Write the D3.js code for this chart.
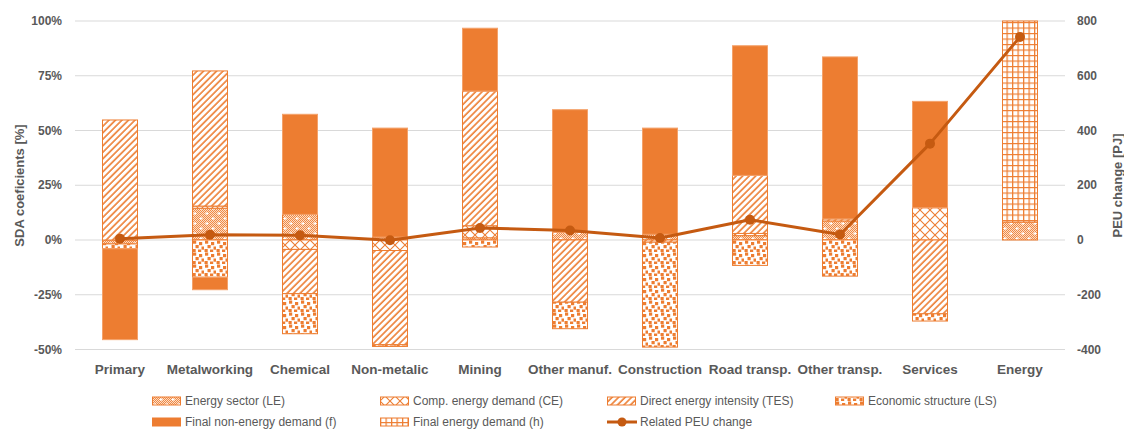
<!DOCTYPE html>
<html>
<head>
<meta charset="utf-8">
<script src="https://cdn.jsdelivr.net/npm/d3@7"></script>
<style>
  body { margin: 0; background: #fff; }
  text { font-family: "Liberation Sans", Arial, sans-serif; }
</style>
</head>
<body>
<div id="chart"></div>
<script>
// categories and SDA coefficients [%]
const categories = ["Primary", "Metalworking", "Chemical", "Non-metalic", "Mining", "Other manuf.",
  "Construction", "Road transp.", "Other transp.", "Services", "Energy"];
const LE  = [-1.8, 14.5, 11.7, 1.3, 1.0, 3.6, 2.6, 2.0, 8.7, 0, 8.2];
const CE  = [0, 1.0, -4.3, -4.8, 5.5, 0, 0, 1.0, 0, 14.7, 0];
const TES = [54.8, 61.7, -20.2, -43.0, 61.5, -28.4, -1.0, 26.5, 0.9, -33.7, 0];
const LS  = [-2.2, -17.0, -18.3, -0.8, -3.2, -12.1, -47.9, -11.6, -16.5, -3.3, 0];
const F   = [-41.5, -5.7, 45.7, 49.8, 28.7, 55.9, 48.5, 59.2, 74.0, 48.6, 0];
const H   = [0, 0, 0, 0, 0, 0, 0, 0, 0, 0, 91.8];
// related PEU change [PJ]
const peu = [5, 19, 17, -1, 44, 35, 7, 74, 20, 352, 742];

const leftTicks = [-50, -25, 0, 25, 50, 75, 100];
const rightTicks = [-400, -200, 0, 200, 400, 600, 800];

const series = [
  {key: "LE", name: "Energy sector (LE)", values: LE, fill: "url(#p-le)"},
  {key: "CE", name: "Comp. energy demand (CE)", values: CE, fill: "url(#p-ce)"},
  {key: "TES", name: "Direct energy intensity (TES)", values: TES, fill: "url(#p-tes)"},
  {key: "LS", name: "Economic structure (LS)", values: LS, fill: "url(#p-ls)"},
  {key: "f", name: "Final non-energy demand (f)", values: F, fill: "#ED7D31"},
  {key: "h", name: "Final energy demand (h)", values: H, fill: "url(#p-h)"}
];

const table = categories.map((c, i) => {
  const row = {cat: c};
  series.forEach(s => row[s.key] = s.values[i]);
  return row;
});

const width = 1124, height = 429;
const orange = "#ED7D31", dark = "#C55A11", grey = "#595959";

const x = d3.scaleBand().domain(categories).range([75, 1065]).paddingInner(0.6).paddingOuter(0.3);
const y = d3.scaleLinear().domain([-50, 100]).range([349.5, 21]);
const y2 = d3.scaleLinear().domain([-400, 800]).range([349.5, 21]);

const svg = d3.select("#chart").append("svg")
  .attr("width", width)
  .attr("height", height);

// patterns
const defs = svg.append("defs");
const fine = defs.append("pattern").attr("id", "p-fine")
  .attr("patternUnits", "userSpaceOnUse").attr("width", 2).attr("height", 2);
fine.append("rect").attr("width", 2).attr("height", 2).attr("fill", "#FBDDC7");
fine.append("rect").attr("width", 1).attr("height", 1).attr("fill", "#F08A45");
fine.append("rect").attr("x", 1).attr("y", 1).attr("width", 1).attr("height", 1).attr("fill", "#F08A45");

const le = defs.append("pattern").attr("id", "p-le")
  .attr("patternUnits", "userSpaceOnUse").attr("width", 12).attr("height", 10);
le.append("rect").attr("width", 12).attr("height", 10).attr("fill", "url(#p-fine)");
le.append("path").attr("d", "M3,2v3M1.5,3.5h3M9,7v3M7.5,8.5h3")
  .attr("stroke", "#fff").attr("stroke-width", 1);

const ce = defs.append("pattern").attr("id", "p-ce")
  .attr("patternUnits", "userSpaceOnUse").attr("width", 10).attr("height", 10);
ce.append("rect").attr("width", 10).attr("height", 10).attr("fill", "#fff");
ce.append("path").attr("d", "M0,0L10,10M10,0L0,10")
  .attr("stroke", orange).attr("stroke-width", 1.1);

const tes = defs.append("pattern").attr("id", "p-tes")
  .attr("patternUnits", "userSpaceOnUse").attr("width", 4.6).attr("height", 10)
  .attr("patternTransform", "rotate(45)");
tes.append("rect").attr("width", 4.6).attr("height", 10).attr("fill", "#fff");
tes.append("line").attr("x1", 1).attr("x2", 1).attr("y1", 0).attr("y2", 10)
  .attr("stroke", orange).attr("stroke-width", 1.6);

const ls = defs.append("pattern").attr("id", "p-ls")
  .attr("patternUnits", "userSpaceOnUse").attr("width", 12).attr("height", 12);
ls.append("rect").attr("width", 12).attr("height", 12).attr("fill", "#fff");
[[1, 0.5], [7, 2], [3.5, 5], [9.5, 6.5], [0.5, 9], [6, 9.5]].forEach(([px, py]) =>
  ls.append("rect").attr("x", px).attr("y", py).attr("width", 3.2).attr("height", 3.2).attr("fill", orange));

const hp = defs.append("pattern").attr("id", "p-h")
  .attr("patternUnits", "userSpaceOnUse").attr("width", 5.5).attr("height", 5.5);
hp.append("rect").attr("width", 5.5).attr("height", 5.5).attr("fill", "#fff");
hp.append("path").attr("d", "M0,0.6H5.5M0.6,0V5.5")
  .attr("stroke", orange).attr("stroke-width", 1.3);

// gridlines
svg.append("g").selectAll("line")
  .data(leftTicks).enter().append("line")
  .attr("x1", 75).attr("x2", 1065)
  .attr("y1", d => y(d)).attr("y2", d => y(d))
  .attr("stroke", "#D9D9D9").attr("stroke-width", 1.2);

// stacked bars
const stacked = d3.stack()
  .keys(series.map(s => s.key))
  .offset(d3.stackOffsetDiverging)(table);

svg.append("g").selectAll("g")
  .data(stacked).enter().append("g")
    .attr("fill", (d, i) => series[i].fill)
    .attr("stroke", (d, i) => series[i].key === "f" ? "#F4A26B" : orange)
    .attr("stroke-width", 1)
  .selectAll("rect")
  .data(d => d.filter(e => e[1] !== e[0]))
  .enter().append("rect")
    .attr("x", d => x(d.data.cat) + 0.5)
    .attr("y", d => y(Math.max(d[0], d[1])))
    .attr("width", x.bandwidth() - 1)
    .attr("height", d => Math.abs(y(d[0]) - y(d[1])));

// PEU line
const cx = c => x(c) + x.bandwidth() / 2;
const lineData = categories.map((c, i) => ({cat: c, v: peu[i]}));
svg.append("path")
  .datum(lineData)
  .attr("fill", "none")
  .attr("stroke", dark)
  .attr("stroke-width", 3)
  .attr("stroke-linejoin", "round")
  .attr("d", d3.line().x(d => cx(d.cat)).y(d => y2(d.v)));
svg.append("g").selectAll("circle")
  .data(lineData).enter().append("circle")
  .attr("cx", d => cx(d.cat)).attr("cy", d => y2(d.v))
  .attr("r", 5).attr("fill", dark);

// axes labels
svg.append("g").selectAll("text")
  .data(leftTicks).enter().append("text")
  .text(d => d + "%")
  .attr("x", 62).attr("y", d => y(d))
  .attr("dominant-baseline", "central")
  .style("text-anchor", "end")
  .style("font-size", "12px").style("font-weight", "bold").attr("fill", grey);

svg.append("g").selectAll("text")
  .data(rightTicks).enter().append("text")
  .text(d => d)
  .attr("x", 1077).attr("y", d => y2(d))
  .attr("dominant-baseline", "central")
  .style("text-anchor", "start")
  .style("font-size", "12px").style("font-weight", "bold").attr("fill", grey);

svg.append("g").selectAll("text")
  .data(categories).enter().append("text")
  .text(d => d)
  .attr("x", d => cx(d)).attr("y", 369.5)
  .attr("dominant-baseline", "central")
  .style("text-anchor", "middle")
  .style("font-size", "13.5px").style("font-weight", "bold").attr("fill", grey);

svg.append("text")
  .text("SDA coeficients [%]")
  .attr("transform", "translate(19,185.5) rotate(-90)")
  .attr("dominant-baseline", "central")
  .style("text-anchor", "middle")
  .style("font-size", "13px").style("font-weight", "bold").attr("fill", grey);

svg.append("text")
  .text("PEU change [PJ]")
  .attr("transform", "translate(1117,185.5) rotate(-90)")
  .attr("dominant-baseline", "central")
  .style("text-anchor", "middle")
  .style("font-size", "13px").style("font-weight", "bold").attr("fill", grey);

// legend
const legendItems = series.map(s => ({name: s.name, fill: s.fill, line: false}))
  .concat([{name: "Related PEU change", line: true}]);
const colX = [152, 380, 607, 835];
const rowY = [401, 422];
const legend = svg.append("g").selectAll("g")
  .data(legendItems).enter().append("g")
  .attr("transform", (d, i) => `translate(${colX[i % 4]},${rowY[Math.floor(i / 4)]})`);
legend.filter(d => !d.line).append("rect")
  .attr("x", 0.5).attr("y", -4)
  .attr("width", 28).attr("height", 8)
  .attr("fill", d => d.fill)
  .attr("stroke", orange).attr("stroke-width", 1);
legend.filter(d => d.line).append("line")
  .attr("x1", 0).attr("x2", 30).attr("y1", 0).attr("y2", 0)
  .attr("stroke", dark).attr("stroke-width", 3);
legend.filter(d => d.line).append("circle")
  .attr("cx", 15).attr("r", 4.5).attr("fill", dark);
legend.append("text")
  .text(d => d.name)
  .attr("x", 33).attr("y", 0)
  .attr("dominant-baseline", "central")
  .style("font-size", "12px").attr("fill", grey);
</script>
</body>
</html>
